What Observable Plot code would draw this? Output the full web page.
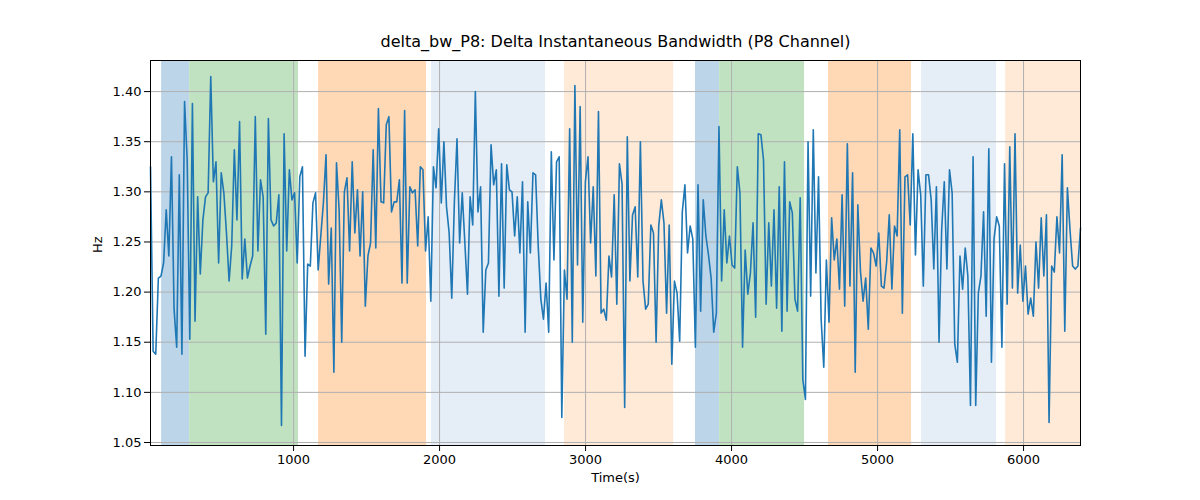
<!DOCTYPE html>
<html><head><meta charset="utf-8">
<script src="https://cdn.jsdelivr.net/npm/d3@7"></script>
<script src="https://cdn.jsdelivr.net/npm/@observablehq/plot@0.6"></script>
<style>body{margin:0;background:#fff;font-family:"DejaVu Sans",sans-serif}</style>
</head><body><div id="chart"></div>
<script>
const values = [1.325,1.141,1.138,1.214,1.216,1.229,1.282,1.236,1.335,1.183,1.145,1.317,1.138,1.39,1.332,1.153,1.388,1.171,1.295,1.218,1.272,1.295,1.299,1.415,1.31,1.33,1.229,1.319,1.299,1.259,1.211,1.246,1.342,1.272,1.37,1.213,1.253,1.214,1.226,1.236,1.375,1.241,1.312,1.295,1.158,1.373,1.272,1.266,1.269,1.297,1.067,1.358,1.241,1.322,1.292,1.299,1.229,1.315,
1.325,1.136,1.228,1.226,1.289,1.299,1.222,1.256,1.289,1.337,1.208,1.264,1.12,1.329,1.282,1.15,1.30,1.314,1.241,1.33,1.259,1.302,1.236,1.30,1.186,1.236,1.249,1.342,1.244,1.383,1.29,1.289,1.367,1.375,1.28,1.29,1.29,1.312,1.209,1.381,1.209,1.305,1.299,1.302,1.246,1.325,1.322,1.241,1.275,1.191,1.325,1.304,1.363,1.289,1.35,1.285,1.259,1.194,1.29,
1.353,1.249,1.299,1.249,1.198,1.295,1.267,1.40,1.28,1.305,1.16,1.222,1.229,1.347,1.307,1.322,1.196,1.328,1.204,1.327,1.302,1.30,1.256,1.295,1.239,1.31,1.16,1.29,1.239,1.319,1.317,1.246,1.193,1.173,1.209,1.16,1.34,1.232,1.33,1.335,1.075,1.222,1.193,1.363,1.15,1.406,1.227,1.385,1.17,1.31,1.335,1.249,1.305,1.216,1.38,1.179,
1.183,1.172,1.236,1.215,1.297,1.188,1.328,1.308,1.085,1.355,1.211,1.277,1.285,1.215,1.35,1.211,1.183,1.188,1.267,1.259,1.15,1.266,1.292,1.269,1.179,1.267,1.128,1.211,1.199,1.151,1.28,1.307,1.239,1.266,1.253,1.145,1.307,1.181,1.292,1.256,1.237,1.214,1.16,1.179,1.365,1.211,1.282,1.229,1.256,1.227,1.224,1.325,1.299,1.145,1.242,1.198,1.219,1.269,1.175,1.358,
1.357,1.332,1.188,1.269,1.206,1.282,1.184,1.305,1.161,1.33,1.181,1.29,1.279,1.193,1.181,1.294,1.113,1.093,1.35,1.196,1.362,1.219,1.315,1.173,1.125,1.232,1.17,1.274,1.232,1.253,1.203,1.297,1.186,1.348,1.206,1.319,1.12,1.287,1.221,1.191,1.214,1.163,1.244,1.239,1.226,1.259,1.206,1.204,1.23,1.277,1.203,1.266,1.256,1.362,1.179,1.315,1.317,1.267,1.358,1.237,1.322,1.297,1.206,1.317,
1.317,1.292,1.223,1.305,1.15,1.262,1.31,1.223,1.322,1.299,1.148,1.13,1.236,1.203,1.244,1.216,1.087,1.335,1.087,1.199,1.216,1.28,1.176,1.343,1.13,1.253,1.275,1.266,1.145,1.328,1.188,1.345,1.204,1.358,1.199,1.247,1.191,1.226,1.178,1.194,1.176,1.25,1.204,1.274,1.216,1.277,1.07,1.226,1.22,1.275,1.239,1.337,1.161,1.304,1.262,1.226,1.223,1.226,1.264];
const tStart = 20, tEnd = 6390;
const spanStart = [96, 288, 1171, 1945, 2856, 3753, 3918, 4664, 5301, 5877];
const spanEnd   = [288, 1034, 1911, 2726, 3603, 3918, 4500, 5233, 5815, 6390];
const spanColor = ["#bcd5e9","#c0e2c0","#ffd8b6","#e5edf7","#ffead7","#bcd5e9","#c0e2c0","#ffd8b6","#e5edf7","#ffead7"];
const xTicks = [1000,2000,3000,4000,5000,6000];
const yTicks = [1.05,1.10,1.15,1.20,1.25,1.30,1.35,1.40];

const n = values.length;
const data = values.map((v,i)=>({t: tStart + i*(tEnd-tStart)/(n-1), v}));
const spans = spanStart.map((s,i)=>({s, e: spanEnd[i], c: spanColor[i]}));

const plot = Plot.plot({
  width:1200, height:500,
  marginLeft:150, marginRight:120, marginTop:60, marginBottom:55,
  style:{fontFamily:"DejaVu Sans, sans-serif", fontSize:"13px", color:"#000"},
  x:{domain:[tStart,tEnd], ticks:xTicks, tickFormat:d=>String(d), label:null, tickSize:4},
  y:{domain:[1.047,1.431], ticks:yTicks, tickFormat:d=>d.toFixed(2), label:null, tickSize:4},
  marks:[
    Plot.rectX(spans,{x1:"s",x2:"e",y1:1.047,y2:1.431,fill:"c"}),
    Plot.gridX(xTicks,{stroke:"#b0b0b0",strokeOpacity:1}),
    Plot.gridY(yTicks,{stroke:"#b0b0b0",strokeOpacity:1}),
    Plot.line(data,{x:"t",y:"v",stroke:"#1f77b4",strokeWidth:1.6}),
    Plot.frame({stroke:"#000"}),
    Plot.axisX({ticks:xTicks, tickFormat:d=>String(d), label:null, fontSize:13}),
    Plot.axisY({ticks:yTicks, tickFormat:d=>d.toFixed(2), label:null, fontSize:13}),
    Plot.text(["delta_bw_P8: Delta Instantaneous Bandwidth (P8 Channel)"],{frameAnchor:"top",dy:-14,lineAnchor:"bottom",fontSize:16,fill:"#000"}),
    Plot.text(["Time(s)"],{frameAnchor:"bottom",dy:36,fontSize:13,fill:"#000"}),
    Plot.text(["Hz"],{frameAnchor:"left",dx:-53,rotate:-90,fontSize:13,fill:"#000"})
  ]
});
document.getElementById("chart").appendChild(plot);
</script></body></html>
